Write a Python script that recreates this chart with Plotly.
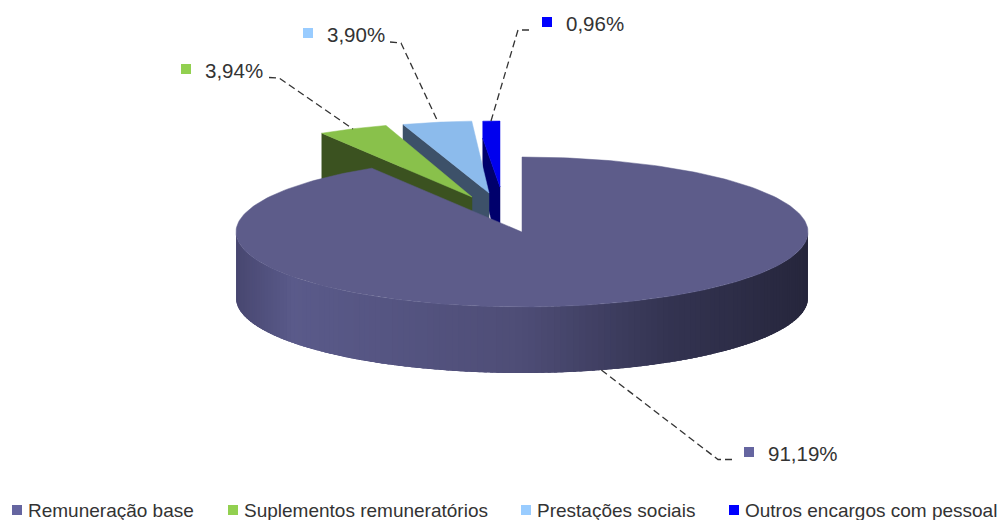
import math
import plotly.graph_objects as go

# Data
categories = ["Remuneração base", "Suplementos remuneratórios", "Prestações sociais", "Outros encargos com pessoal"]
values = [91.19, 3.94, 3.90, 0.96]
value_labels = ["91,19%", "3,94%", "3,90%", "0,96%"]

# Style and layout
W, H = 1006, 520
CX, CY, RX, RY, DEPTH = 522, 232, 286, 75, 66
TOP = ["#5d5c8a", "#89c14b", "#8cbbec", "#0000ee"]
WALL = [None, "#3b5220", "#3d5169", "#00006c"]
KEY = ["#6565a0", "#92d050", "#99ccff", "#0000ff"]
EXPLODE_DX = [0, -50, -33, -22]
EXPLODE_DY = [0, -35, -36, -36]
APEX_EXTRA_DY = [0, 0, -3, -9]
KINK = [0, 0, 0, 17]
LABEL_POS = [(749, 452), (186, 69), (308, 33), (547, 22)]
LEADERS = [
    [(732, 459.5), (718, 459.5), (600, 369)],
    [(269, 77.5), (279, 78), (353, 129)],
    [(390, 42), (401, 43), (438, 122)],
    [(529, 30), (518, 30), (491, 121)],
]
LEGEND_X = [17, 233, 526, 734]
LEGEND_Y = 510
TEXT = "#333333"
FONT = "Liberation Sans"


def rim(theta, dx=0, dy=0):
    return CX + RX * math.sin(theta) + dx, CY - RY * math.cos(theta) + dy


def arc(a, b, n=60, dx=0, dy=0):
    return [rim(a + (b - a) * i / n, dx, dy) for i in range(n + 1)]


def poly(fig, pts, color, edge=0.5):
    pts = list(pts) + [pts[0]]
    fig.add_trace(go.Scatter(
        x=[p[0] for p in pts], y=[p[1] for p in pts], mode="lines", fill="toself",
        fillcolor=color, line=dict(color=color, width=edge), hoverinfo="skip", showlegend=False))


def lerp_side(t):
    stops = [(0, (72, 71, 112)), (0.1, (90, 90, 138)), (0.5, (78, 77, 118)), (0.75, (52, 52, 82)), (1, (38, 38, 60))]
    for (t0, c0), (t1, c1) in zip(stops, stops[1:]):
        if t <= t1:
            f = (t - t0) / (t1 - t0)
            return "rgb(%d,%d,%d)" % tuple(round(a + (b - a) * f) for a, b in zip(c0, c1))
    return "rgb(38,38,60)"


# Slice angles derived from values
total = sum(values)
bounds = [0]
for v in values:
    bounds.append(bounds[-1] + v / total * 2 * math.pi)

fig = go.Figure()

# Exploded slices, back to front
for i in (3, 2, 1):
    a, b = bounds[i], bounds[i + 1]
    dx, dy = EXPLODE_DX[i], EXPLODE_DY[i]
    start = rim(a, dx, dy)
    apex = (CX + dx, CY + dy + APEX_EXTRA_DY[i])
    kinked = (start[0], start[1] + KINK[i])
    poly(fig, [kinked, apex, (apex[0], apex[1] + DEPTH), (start[0], start[1] + DEPTH)], WALL[i])
    top = arc(a, b, 20, dx, dy) + [apex]
    if KINK[i]:
        top.append(kinked)
    poly(fig, top, TOP[i])

# Main slice: curved side as gradient strips (painted left to right, each
# overlapping the next), then the top face
a, b = bounds[0], bounds[1]
N = 140
for k in range(N):
    t0 = 1.5 * math.pi - math.pi * k / N
    t1 = max(t0 - math.pi * 2.5 / N, math.pi / 2)
    upper = arc(t0, t1, 4)
    lower = [(x, y + DEPTH) for x, y in reversed(upper)]
    x_mid = rim(t0 - math.pi * 0.5 / N)[0]
    poly(fig, upper + lower, lerp_side((x_mid - (CX - RX)) / (2 * RX)), edge=0)
poly(fig, arc(a, b, 240) + [(CX, CY)], TOP[0])

# Leader lines
for pts in LEADERS:
    fig.add_trace(go.Scatter(
        x=[p[0] for p in pts], y=[p[1] for p in pts], mode="lines",
        line=dict(color="#333333", width=1.3, dash="7px,4px"), hoverinfo="skip", showlegend=False))

# Value labels and their keys
for i, (x, y) in enumerate(LABEL_POS):
    fig.add_trace(go.Scatter(
        x=[x], y=[y], mode="markers", marker=dict(symbol="square", size=10, color=KEY[i]),
        hoverinfo="skip", showlegend=False))
    fig.add_annotation(x=x + 17, y=y + 1, text=value_labels[i], showarrow=False, xanchor="left",
                       yanchor="middle", font=dict(family=FONT, size=20.5, color=TEXT))

# Legend row
for i, name in enumerate(categories):
    fig.add_trace(go.Scatter(
        x=[LEGEND_X[i]], y=[LEGEND_Y], mode="markers",
        marker=dict(symbol="square", size=10, color=KEY[i]), hoverinfo="skip", showlegend=False))
    fig.add_annotation(x=LEGEND_X[i] + 9, y=LEGEND_Y + 0.5, text=name, showarrow=False, xanchor="left",
                       yanchor="middle", font=dict(family=FONT, size=19, color=TEXT))

fig.update_layout(
    width=W, height=H, margin=dict(l=0, r=0, t=0, b=0),
    paper_bgcolor="white", plot_bgcolor="white", showlegend=False,
    xaxis=dict(range=[0, W], visible=False, fixedrange=True),
    yaxis=dict(range=[H, 0], visible=False, fixedrange=True),
)
fig.write_html("out.html", config={"displayModeBar": False},
               post_script="document.body.style.margin='0';document.body.style.overflow='hidden';")
